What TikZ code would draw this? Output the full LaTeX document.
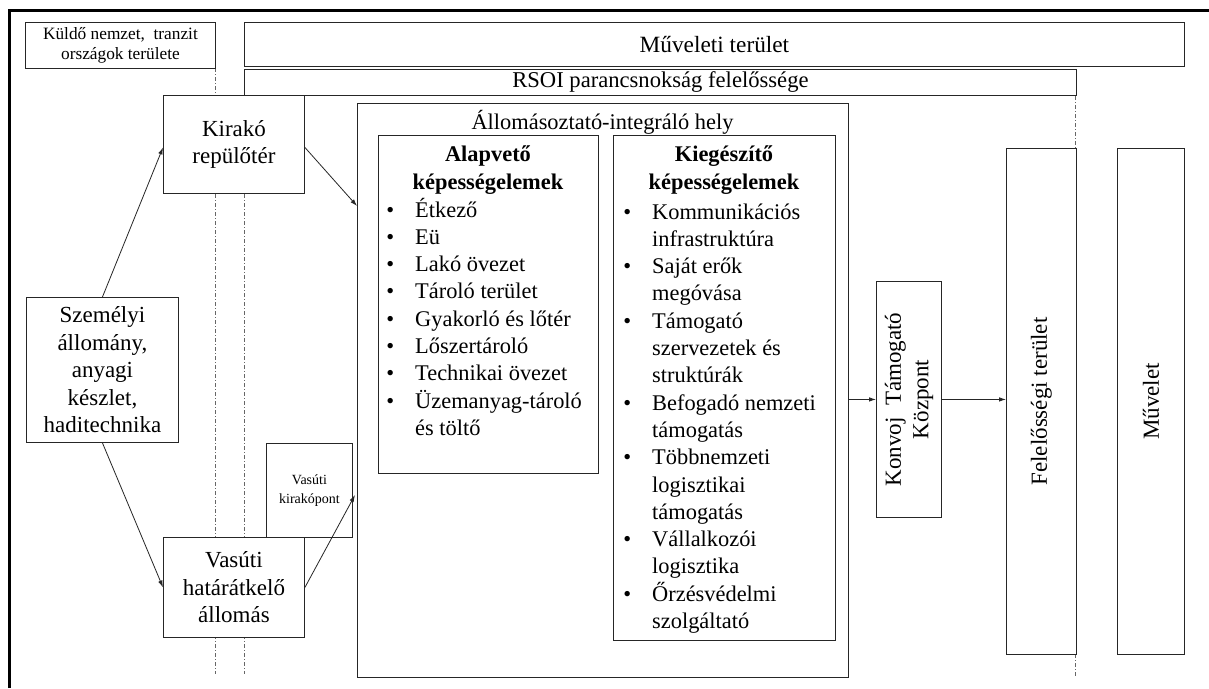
\documentclass[tikz,border=0pt]{standalone}
\usepackage{fontspec}
\setmainfont{Liberation Serif}
\usetikzlibrary{arrows.meta}
\newcommand\biglbl{\fontsize{23}{27.5}\selectfont}
\newcommand\lstfont{\fontsize{22.4}{27.3}\selectfont}
\newcommand\itm{\leavevmode\llap{\textbullet\hspace{21pt}}}
\newcommand\lstbox[2]{\parbox[t]{#1}{\raggedright\lstfont #2}}
\tikzset{
  box/.style={draw=black!85, line width=0.9pt, fill=white, inner sep=0pt,
    anchor=north west, align=center, font=\biglbl},
  sepline/.style={draw=black!60, line width=0.8pt, dash pattern=on 4pt off 2pt on 1pt off 2pt},
  arr/.style={draw=black!85, line width=0.8pt, -{Latex[length=7pt,width=4.5pt]}},
  vtext/.style={rotate=90, align=center, font=\biglbl, inner sep=0pt},
}
\begin{document}
\begin{tikzpicture}[x=1pt,y=-1pt]
\useasboundingbox (0,0) rectangle (1209,688);
\fill[white] (0,0) rectangle (1209,688);
% frame
\draw[line width=3pt, line join=miter] (9.5,688) -- (9.5,10) -- (1209,10);
% separator lines
\coordinate (s1a) at (215.5,68); \coordinate (s1b) at (215.5,674);
\coordinate (s2a) at (244,95);  \coordinate (s2b) at (244,674);
\coordinate (s3a) at (1075.5,96); \coordinate (s3b) at (1075.5,677);
\draw[sepline] (s1a) -- (s1b);
\draw[sepline] (s2a) -- (s2b);
\draw[sepline] (s3a) -- (s3b);
% top boxes
\node[box, minimum width=190pt, minimum height=46pt, font=\fontsize{17.3}{20}\selectfont] (kuld) at (25,22) {Küldő nemzet,\ \ tranzit\\országok területe};
\node[box, minimum width=940pt, minimum height=44pt, font=\fontsize{23.3}{27}\selectfont] (muv) at (244,22) {Műveleti terület};
\node[box, minimum width=832pt, minimum height=26pt, font=\fontsize{22.6}{26}\selectfont] (rsoi) at (244,69) {RSOI parancsnokság felelőssége};
% left boxes
\node[box, minimum width=141pt, minimum height=98pt] (kir) at (163,95) {Kirakó\\repülőtér};
\node[box, minimum width=152pt, minimum height=145pt] (szem) at (26,297) {Személyi\\állomány,\\anyagi\\készlet,\\haditechnika};
\node[box, minimum width=86pt, minimum height=94pt, font=\fontsize{14}{19}\selectfont] (vkp) at (266,443) {Vasúti\\kirakópont};
\node[box, minimum width=141pt, minimum height=100pt] (hat) at (163,537) {Vasúti\\határátkelő\\állomás};
% ISI
\node[box, minimum width=491pt, minimum height=574pt] (isi) at (357,103) {};
\node[font=\fontsize{22.4}{26}\selectfont, inner sep=0pt] (isit) at (602.5,122) {Állomásoztató-integráló hely};
\node[box, minimum width=220pt, minimum height=338pt] (alap) at (378,135) {};
\node[box, minimum width=222pt, minimum height=505pt] (kieg) at (613,135) {};
\node[anchor=base, align=center, inner sep=0pt, font=\bfseries\fontsize{22.4}{28}\selectfont] (alaph) at (488,189) {Alapvető\\képességelemek};
\node[anchor=base, align=center, inner sep=0pt, font=\bfseries\fontsize{22.4}{28}\selectfont] (kiegh) at (724,189) {Kiegészítő\\képességelemek};
\node[anchor=base west, inner sep=0pt] (alapl) at (415,217) {\lstbox{180pt}{%
\itm Étkező\\
\itm Eü\\
\itm Lakó övezet\\
\itm Tároló terület\\
\itm Gyakorló és lőtér\\
\itm Lőszertároló\\
\itm Technikai övezet\\
\itm Üzemanyag-tároló\\
és töltő}};
\node[anchor=base west, inner sep=0pt] (kiegl) at (652,219) {\lstbox{180pt}{%
\itm Kommunikációs\\
infrastruktúra\\
\itm Saját erők\\
megóvása\\
\itm Támogató\\
szervezetek és\\
struktúrák\\
\itm Befogadó nemzeti\\
támogatás\\
\itm Többnemzeti\\
logisztikai\\
támogatás\\
\itm Vállalkozói\\
logisztika\\
\itm Őrzésvédelmi\\
szolgáltató}};
% right boxes
\node[box, minimum width=65pt, minimum height=236pt] (konv) at (876,281) {};
\node[vtext] (konvt) at (konv.center) {Konvoj\ \ Támogató\\Központ};
\node[box, minimum width=70pt, minimum height=506pt] (fel) at (1006,148) {};
\node[vtext] (felt) at (fel.center) {Felelősségi terület};
\node[box, minimum width=67pt, minimum height=506pt] (mv) at (1117,148) {};
\node[vtext] (mvt) at (mv.center) {Művelet};
% arrows
\draw[arr] (szem.north) -- ([yshift=-3pt]kir.west);
\draw[arr] ([yshift=-3pt]kir.east) -- ([yshift=-103pt]isi.north west);
\draw[arr] (szem.south) -- (hat.west);
\draw[arr] (hat.east) -- ([xshift=-2pt,yshift=-392pt]isi.north west);
\draw[arr] (isi.east |- konv.west) -- (konv.west);
\draw[arr] (konv.east) -- (fel.west |- konv.east);
\end{tikzpicture}
\end{document}
